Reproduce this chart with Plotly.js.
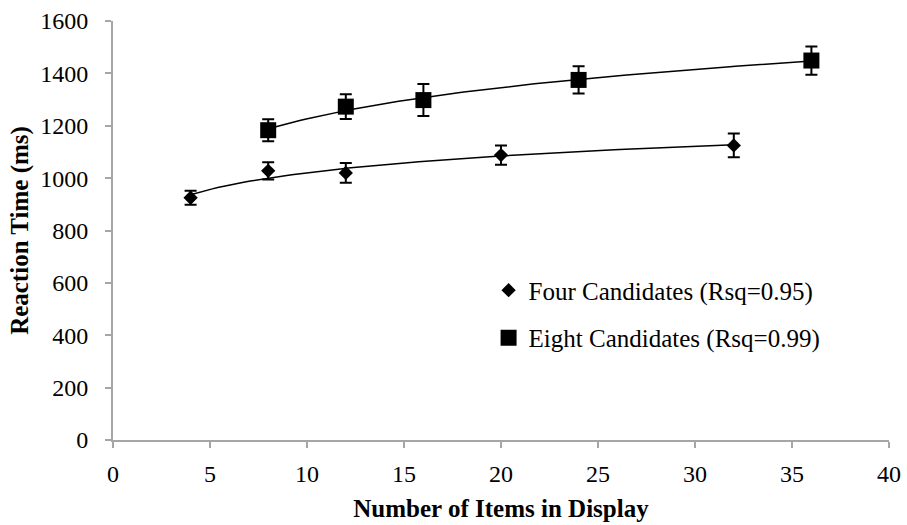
<!DOCTYPE html>
<html>
<head>
<meta charset="utf-8">
<script src="https://cdn.plot.ly/plotly-3.0.1.min.js"></script>
<style>html,body{margin:0;padding:0;background:#fff;}#chart{width:907px;height:525px;}</style>
</head>
<body>
<div id="chart"></div>
<script>
// Data
var fourX = [4, 8, 12, 20, 32];
var fourY = [925, 1028, 1020, 1088, 1125];
var fourErr = [27, 33, 38, 37, 45];

var eightX = [8, 12, 16, 24, 36];
var eightY = [1183, 1273, 1298, 1375, 1449];
var eightErr = [42, 47, 61, 52, 54];

var fourName = 'Four Candidates (Rsq=0.95)';
var eightName = 'Eight Candidates (Rsq=0.99)';
var xTitle = 'Number of Items in Display';
var yTitle = 'Reaction Time (ms)';

// Logarithmic trendline (least squares y = a + b ln x) computed from the data
function logFit(xs, ys) {
  var n = xs.length, sx = 0, sy = 0, sxx = 0, sxy = 0;
  for (var i = 0; i < n; i++) {
    var l = Math.log(xs[i]);
    sx += l; sy += ys[i]; sxx += l * l; sxy += l * ys[i];
  }
  var b = (n * sxy - sx * sy) / (n * sxx - sx * sx);
  var a = (sy - b * sx) / n;
  var cx = [], cy = [];
  var x0 = Math.min.apply(null, xs), x1 = Math.max.apply(null, xs);
  for (var k = 0; k <= 100; k++) {
    var x = x0 + (x1 - x0) * k / 100;
    cx.push(x); cy.push(a + b * Math.log(x));
  }
  return {x: cx, y: cy};
}
var fourFit = logFit(fourX, fourY);
var eightFit = logFit(eightX, eightY);

var font = 'Liberation Serif, Times New Roman, serif';

var traces = [
  {x: fourFit.x, y: fourFit.y, mode: 'lines', line: {color: '#000', width: 1.5}, showlegend: false, hoverinfo: 'skip'},
  {x: eightFit.x, y: eightFit.y, mode: 'lines', line: {color: '#000', width: 1.5}, showlegend: false, hoverinfo: 'skip'},
  {x: fourX, y: fourY, name: fourName, mode: 'markers', legendgroup: 'a',
   marker: {symbol: 'diamond', size: 11, color: '#000'},
   error_y: {type: 'data', array: fourErr, visible: true, color: '#000', thickness: 2, width: 6}},
  {x: eightX, y: eightY, name: eightName, mode: 'markers', legendgroup: 'b',
   marker: {symbol: 'square', size: 16, color: '#000'},
   error_y: {type: 'data', array: eightErr, visible: true, color: '#000', thickness: 2, width: 6}}
];

var axisCommon = {
  showgrid: false, zeroline: false, showline: true, linecolor: '#a6a6a6', linewidth: 2,
  ticks: 'outside', ticklen: 6, tickwidth: 2, tickcolor: '#a6a6a6',
  tickfont: {family: font, size: 24, color: '#000'}
};

var layout = {
  width: 907, height: 525,
  margin: {l: 113, r: 18, t: 21, b: 85},
  paper_bgcolor: '#fff', plot_bgcolor: '#fff',
  font: {family: font, color: '#000'},
  xaxis: Object.assign({}, axisCommon, {
    range: [0, 40], dtick: 5, tick0: 0, ticklabelstandoff: 5,
    title: {text: '<b>' + xTitle + '</b>', font: {family: font, size: 25, color: '#000'}, standoff: 14}
  }),
  yaxis: Object.assign({}, axisCommon, {
    range: [0, 1600], dtick: 200, tick0: 0, ticklabelstandoff: 12,
    title: {text: '<b>' + yTitle + '</b>', font: {family: font, size: 25, color: '#000'}, standoff: 4}
  }),
  showlegend: true,
  legend: {
    x: 0.484, y: 0.301, xanchor: 'left', yanchor: 'middle',
    font: {family: font, size: 25, color: '#000'},
    bgcolor: 'rgba(0,0,0,0)', traceorder: 'grouped', tracegroupgap: 12,
    itemwidth: 30
  }
};

Plotly.newPlot('chart', traces, layout, {staticPlot: true, displayModeBar: false});
</script>
</body>
</html>
